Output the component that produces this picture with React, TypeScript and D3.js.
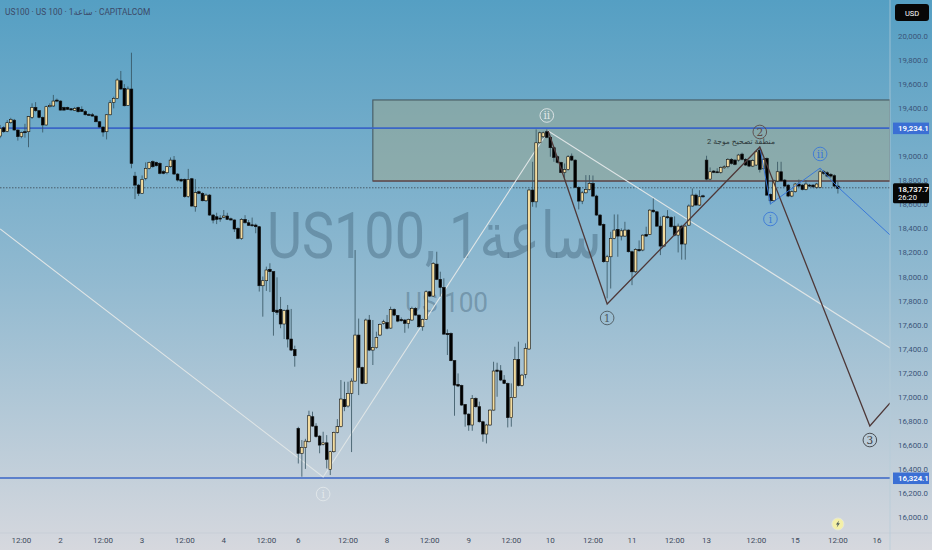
import React, { useRef, useEffect } from 'react'
import * as d3 from 'd3'

// [open, high, low, close], hourly candles
const ohlcWeek1 = [
  [19168,19260,19150,19232],[19237,19250,19195,19204],[19207,19300,19200,19279],[19279,19320,19270,19307],
  [19300,19310,19215,19218],[19218,19225,19130,19163],[19163,19205,19150,19196],[19204,19270,19155,19196],
  [19204,19335,19075,19329],[19323,19440,19310,19406],[19406,19450,19370,19379],[19379,19385,19315,19323],
  [19323,19330,19198,19260],[19260,19420,19255,19412],[19412,19440,19405,19423],[19418,19510,19410,19459],
  [19467,19480,19450,19459],[19459,19465,19380,19384],[19406,19412,19378,19384],[19406,19412,19385,19390],
  [19395,19400,19380,19385],[19382,19410,19378,19398],[19406,19412,19365,19370],[19390,19415,19368,19373],
  [19373,19385,19340,19345],[19348,19358,19338,19343],[19345,19360,19330,19334],[19334,19340,19282,19287],
  [19287,19292,19238,19243],[19243,19248,19163,19201],[19204,19350,19140,19345],[19345,19467,19340,19445],
  [19448,19495,19398,19481],[19481,19648,19475,19634],[19628,19709,19553,19559],[19564,19600,19415,19420],
  [19423,19580,19418,19559],[19559,19861,18900,18941],[18835,18870,18644,18760],[18760,18770,18670,18692],
  [18692,18840,18688,18808],[18816,18949,18800,18899],[18899,18955,18890,18949],[18955,18965,18905,18913],
  [18949,18955,18915,18921],[18941,18950,18850,18858],[18872,18885,18850,18858],[18863,18920,18850,18913],
  [18913,18990,18905,18968],[18968,19002,18845,18852],[18852,18860,18790,18802],[18808,18815,18785,18794],
  [18808,18815,18655,18664],[18664,18895,18655,18808],[18813,18820,18580,18586],[18580,18810,18539,18697],
  [18705,18715,18685,18691],[18691,18700,18625,18630],[18630,18690,18620,18677],[18677,18685,18505,18511],
  [18511,18520,18442,18469],[18497,18530,18436,18475],[18486,18510,18455,18480],[18492,18553,18485,18503],
  [18503,18530,18470,18475],[18480,18490,18465,18470],[18470,18475,18370,18395],[18400,18410,18310,18317],
  [18315,18485,18305,18475],[18475,18510,18440,18447],[18447,18470,18420,18425],[18430,18490,18415,18422],
  [18428,18440,18360,18414],[18414,18420,17875,17923],[17923,18000,17666,17965],[17965,18082,17880,18054],
  [18060,18110,17870,18040],[18040,18045,17508,17707],[17720,17993,17680,17702],[17727,17830,17570,17605],
  [17605,17725,17480,17716],[17721,17763,17410,17480],[17480,17730,17380,17388],[17394,17425,17250,17341],
]

const ohlcWeek2 = [
  [16737,16750,16445,16529],[16529,16640,16335,16579],[16579,16650,16400,16631],[16626,16884,16620,16842],
  [16834,16876,16750,16756],[16756,16780,16660,16668],[16673,16680,16530,16598],[16604,16709,16595,16617],
  [16617,16681,16404,16479],[16396,16550,16349,16543],[16543,16710,16535,16704],[16704,16814,16695,16751],
  [16751,17139,16745,16981],[16978,17125,16880,16917],[16923,17125,16910,17028],[17028,17153,16540,17130],
  [17130,18220,17125,17513],[17513,17650,17014,17244],[17244,17250,17105,17111],[17111,17650,17105,17638],
  [17638,17680,17380,17388],[17388,17638,17264,17410],[17408,17541,17400,17494],[17513,17610,17505,17602],
  [17610,17640,17600,17624],[17618,17680,17560,17568],[17571,17749,17565,17726],[17726,17735,17670,17679],
  [17676,17680,17620,17629],[17643,17660,17625,17632],[17638,17645,17532,17610],[17610,17650,17568,17643],
  [17638,17749,17630,17735],[17735,17745,17675,17679],[17679,17685,17575,17582],[17582,17650,17549,17643],
  [17643,17885,17638,17873],[17873,17880,17830,17837],[17837,18120,17830,18109],[18103,18206,17970,17976],
  [17976,18040,17832,17909],[17909,17985,17515,17521],[17527,17560,17347,17516],[17527,17535,17295,17300],
  [17300,17305,16842,17097],[17103,17194,17080,17089],[17094,17100,16925,16931],[16936,16940,16751,16856],
  [16856,16862,16717,16765],[16765,17014,16717,16986],[16986,16995,16910,16917],[16917,16959,16785,16792],
  [16792,16800,16626,16690],[16690,16775,16612,16765],[16765,16895,16760,16889],[16889,17291,16885,17214],
  [17222,17283,17000,17211],[17216,17263,17130,17139],[17139,17180,17105,17111],[17111,17118,16745,16826],
  [16826,17111,16751,16995],[16995,17416,16990,17311],[17311,17458,17085,17092],[17092,17190,17085,17180],
  [17186,17444,17153,17402],[17397,18730,17390,18719],[18719,18954,18580,18621],[18621,19223,18574,19112],
  [19112,19205,19105,19195],[19162,19205,19150,19195],[19204,19223,19150,19157],[19157,19165,18996,19071],
  [19071,19080,18954,18990],[18996,19005,18940,18949],[18949,18955,18860,18865],[18865,18940,18815,18890],
  [18890,19010,18880,18996],[19001,19023,18960,18968],[18968,18975,18735,18741],[18741,18750,18558,18627],
  [18627,18710,18602,18696],[18696,18843,18690,18724],[18724,18843,18715,18774],[18774,18840,18660,18669],
  [18669,18680,18505,18511],[18511,18520,18420,18427],[18433,18440,18115,18123],[18123,18180,17818,18164],
  [18164,18372,17900,18317],[18317,18516,18310,18386],[18392,18516,18164,18336],[18336,18400,18300,18380],
  [18336,18455,18330,18386],[18386,18392,18200,18206],[18206,18215,17928,18039],[18039,18235,18030,18225],
  [18225,18300,18206,18214],[18220,18350,18210,18344],[18350,18414,18330,18336],[18350,18560,18345,18552],
  [18552,18649,18530,18538],[18538,18545,18412,18419],[18419,18497,18178,18253],[18253,18510,18245,18497],
  [18497,18552,18480,18489],[18491,18500,18405,18414],[18419,18500,18335,18344],[18344,18440,18200,18419],
  [18419,18430,18140,18270],[18270,18430,18140,18419],[18427,18600,18420,18586],[18586,18732,18580,18677],
  [18677,18690,18590,18594],[18594,18718,18588,18663],[18671,18680,18655,18666],
]

const ohlcWeek3 = [
  [18968,19004,18800,18810],[18810,18907,18800,18871],[18877,18885,18860,18866],[18871,18900,18860,18866],
  [18866,18915,18855,18907],[18904,18925,18895,18913],[18913,18985,18900,18974],[18974,18985,18930,18940],
  [18968,18975,18925,18932],[18968,19020,18955,19010],[19018,19030,18965,18974],[18974,18985,18920,18927],
  [18963,18970,18910,18918],[18918,18975,18910,18963],[18927,19045,18920,19037],[19051,19071,18865,18891],
  [18899,18985,18890,18974],[18982,18990,18670,18677],[18683,18690,18600,18630],[18630,18805,18620,18794],
  [18794,18954,18785,18871],[18871,18954,18790,18796],[18802,18810,18745,18752],[18760,18768,18660,18669],
  [18669,18715,18660,18705],[18705,18778,18698,18769],[18769,18807,18745,18752],[18760,18768,18716,18724],
  [18724,18802,18716,18769],[18760,18770,18745,18752],[18760,18768,18735,18746],[18741,18778,18730,18769],
  [18741,18890,18735,18871],[18871,18885,18845,18857],[18863,18875,18825,18835],[18849,18860,18820,18835],
  [18838,18850,18745,18752],[18752,18790,18690,18733],
]

const timeTicks: [number, string][] = [
  [6,'12:00'],[17,'2'],[29,'12:00'],[40,'3'],[52,'12:00'],[63,'4'],[75,'12:00'],[84,'6'],[98,'12:00'],[109,'8'],
  [121,'12:00'],[132,'9'],[144,'12:00'],[155,'10'],[167,'12:00'],[178,'11'],[190,'12:00'],[199,'13'],[213,'12:00'],
  [224,'15'],[236,'12:00'],[247,'16'],
]

// drawings, as [candle index, price]
const whiteLeg = [[0,18395],[91,16333],[154.4,19210],[250.7,17405]]
const waveLeg = [[154.4,19210],[171,17771],[214,19077],[245,16757],[250.7,16948]]
const subWaveLeg = [[214,19077],[217,18603],[231,18902],[236,18744],[250.7,18345]]
const supplyZone = { from: 105, to: 250.7, top: 19468, bottom: 18794 }
const levels = [19234.1, 16324.1]
const lastPrice = 18737.7
// covered by the 19,234.1 tag
const hiddenTicks = [19200]

const waveMarks: [number, number, string, string][] = [
  [154, 19339, 'ii', '#e2e8ea'],
  [171, 17655, '1', '#4e5a60'],
  [214, 19202, '2', '#5a4a48'],
  [245, 16640, '3', '#3c4044'],
  [91, 16191, 'i', '#e2e8ea'],
  [231, 19019, 'ii', '#3a78d8'],
  [217, 18478, 'i', '#3a78d8'],
]

const font = 'Roboto, "DejaVu Sans", sans-serif'

export default function App() {
  const svgRef = useRef<SVGSVGElement>(null)

  useEffect(() => {
    if (!svgRef.current) return
    const svg = d3.select(svgRef.current)
    svg.selectAll('*').remove()

    const width = 932
    const height = 550
    const axisX = 890
    const candles = [...ohlcWeek1, ...ohlcWeek2, ...ohlcWeek3]

    const x = d3.scaleLinear().domain([0, 250]).range([0.1, 887.6])
    const y = d3.scaleLinear().domain([20000, 16000]).range([36, 517])

    // Background
    const defs = svg.append('defs')
    const grad = defs.append('linearGradient').attr('id', 'bg')
      .attr('x1', 0).attr('x2', 0).attr('y1', 0).attr('y2', 1)
    grad.append('stop').attr('offset', '0%').attr('stop-color', '#559fc3')
    grad.append('stop').attr('offset', '50%').attr('stop-color', '#90b9d0')
    grad.append('stop').attr('offset', '100%').attr('stop-color', '#d6d8de')
    defs.append('clipPath').attr('id', 'plot')
      .append('rect').attr('width', axisX).attr('height', 533)

    svg.append('rect').attr('width', width).attr('height', height).attr('fill', 'url(#bg)')

    // Watermark
    svg.append('text').attr('x', 267).attr('y', 258)
      .attr('font-family', font).attr('font-size', 65)
      .attr('textLength', 335).attr('lengthAdjust', 'spacingAndGlyphs')
      .attr('fill', '#3d5c72').attr('fill-opacity', 0.4)
      .text('US100, 1ساعة')
    svg.append('text').attr('x', 405).attr('y', 312)
      .attr('font-family', font).attr('font-size', 28)
      .attr('textLength', 83).attr('lengthAdjust', 'spacingAndGlyphs')
      .attr('fill', '#3d5c72').attr('fill-opacity', 0.4)
      .text('US 100')

    svg.append('text').attr('x', 5).attr('y', 15)
      .attr('font-family', font).attr('font-size', 8.4)
      .attr('fill', '#3c4a68')
      .text('US100 · US 100 · 1ساعة · CAPITALCOM')

    const plot = svg.append('g').attr('clip-path', 'url(#plot)')

    // Supply zone
    plot.append('rect')
      .attr('x', x(supplyZone.from)).attr('y', y(supplyZone.top))
      .attr('width', x(supplyZone.to) - x(supplyZone.from))
      .attr('height', y(supplyZone.bottom) - y(supplyZone.top))
      .attr('fill', '#9ea88d').attr('fill-opacity', 0.5)
      .attr('stroke', '#465a62').attr('stroke-width', 1.1)
    plot.append('line')
      .attr('x1', x(supplyZone.from)).attr('x2', axisX)
      .attr('y1', y(supplyZone.bottom)).attr('y2', y(supplyZone.bottom))
      .attr('stroke', '#6b3a3a').attr('stroke-width', 1.2)

    // Levels
    plot.selectAll('.level').data(levels).join('line')
      .attr('class', 'level')
      .attr('x1', 0).attr('x2', axisX)
      .attr('y1', d => y(d)).attr('y2', d => y(d))
      .attr('stroke', '#3a66c6').attr('stroke-width', 1.6)
    plot.append('line')
      .attr('x1', 0).attr('x2', axisX)
      .attr('y1', y(lastPrice)).attr('y2', y(lastPrice))
      .attr('stroke', '#3b4650').attr('stroke-width', 0.8).attr('stroke-dasharray', '1.5,1.5')

    const line = d3.line<number[]>().x(d => x(d[0])).y(d => y(d[1]))

    plot.append('path').attr('d', line(whiteLeg)!)
      .attr('fill', 'none').attr('stroke', '#dfe5e6').attr('stroke-width', 1.1)

    // Candles
    const g = plot.selectAll('.candle').data(candles).join('g').attr('class', 'candle')
    g.append('line')
      .attr('x1', (_, i) => x(i)).attr('x2', (_, i) => x(i))
      .attr('y1', d => y(d[1])).attr('y2', d => y(d[2]))
      .attr('stroke', '#34505e').attr('stroke-width', 0.8)
    g.append('rect')
      .attr('x', (_, i) => x(i) - 1.35)
      .attr('width', 2.7)
      .attr('y', d => y(Math.max(d[0], d[3])))
      .attr('height', d => Math.max(1, Math.abs(y(d[0]) - y(d[3]))))
      .attr('fill', d => d[3] >= d[0] ? '#f3dc9f' : '#000')
      .attr('stroke', '#111').attr('stroke-width', 0.6)

    plot.append('path').attr('d', line(subWaveLeg)!)
      .attr('fill', 'none').attr('stroke', '#3a78d8').attr('stroke-width', 1)
    plot.append('path').attr('d', line(waveLeg)!)
      .attr('fill', 'none').attr('stroke', '#4e3838').attr('stroke-width', 1.3)

    // Wave labels
    const marks = plot.selectAll('.mark').data(waveMarks).join('g').attr('class', 'mark')
      .attr('transform', d => `translate(${x(d[0])},${y(d[1])})`)
    marks.append('circle').attr('r', 6.8)
      .attr('fill', 'none').attr('stroke', d => d[3]).attr('stroke-width', 0.9)
    marks.append('text')
      .attr('text-anchor', 'middle').attr('y', 4)
      .attr('font-family', '"DejaVu Serif", serif').attr('font-size', 10.5)
      .attr('fill', d => d[3])
      .text(d => d[2])

    plot.append('text').attr('x', 741).attr('y', 144)
      .attr('text-anchor', 'middle').attr('direction', 'rtl')
      .attr('font-family', font).attr('font-size', 7.6).attr('fill', '#2f3a3c')
      .text('منطقة تصحيح موجة 2')

    // Time axis
    svg.append('line').attr('x1', 0).attr('x2', width).attr('y1', 533).attr('y2', 533)
      .attr('stroke', '#c4ccd4').attr('stroke-width', 0.7)
    svg.selectAll('.time').data(timeTicks).join('text')
      .attr('class', 'time')
      .attr('x', d => x(d[0])).attr('y', 543)
      .attr('text-anchor', 'middle')
      .attr('font-family', font).attr('font-size', 8).attr('fill', '#3d4a5c')
      .text(d => d[1])

    // Session break marker
    const bolt = svg.append('g').attr('transform', `translate(${x(236)},524)`)
    bolt.append('circle').attr('r', 6).attr('fill', '#f4f0a8').attr('stroke', '#e6e8d8').attr('stroke-width', 1)
    bolt.append('path').attr('d', 'M1.2,-3.6 L-2,0.6 L-0.2,0.6 L-1.2,3.6 L2,-0.8 L0.2,-0.8 Z').attr('fill', '#4a5a5a')

    // Price axis
    svg.append('line').attr('x1', axisX).attr('x2', axisX).attr('y1', 0).attr('y2', height)
      .attr('stroke', '#b4ccd8').attr('stroke-width', 0.7)
    svg.selectAll('.price').data(y.ticks(20).filter(d => !hiddenTicks.includes(d))).join('text')
      .attr('class', 'price')
      .attr('x', 898).attr('y', d => y(d) + 3)
      .attr('font-family', font).attr('font-size', 7.8).attr('fill', '#3a5478')
      .text(d => d3.format(',.1f')(d))

    svg.selectAll('.tag').data(levels).join('g')
      .attr('class', 'tag')
      .attr('transform', d => `translate(893,${y(d)})`)
      .call(sel => {
        sel.append('rect').attr('y', -5.5).attr('width', 36).attr('height', 11.5).attr('fill', '#3b6fd4')
        sel.append('text').attr('x', 5).attr('y', 3)
          .attr('font-family', font).attr('font-size', 7.8).attr('font-weight', 600).attr('fill', '#fff')
          .text(d => d3.format(',.1f')(d))
      })

    const last = svg.append('g').attr('transform', `translate(893,${y(lastPrice) - 4.6})`)
    last.append('rect').attr('width', 36).attr('height', 20).attr('rx', 1.5).attr('fill', '#070707')
    last.append('text').attr('x', 5).attr('y', 8.6)
      .attr('font-family', font).attr('font-size', 7.8).attr('font-weight', 600).attr('fill', '#fff')
      .text(d3.format(',.1f')(lastPrice))
    last.append('text').attr('x', 5).attr('y', 17)
      .attr('font-family', font).attr('font-size', 7.6).attr('fill', '#fff')
      .text('26:20')

    const usd = svg.append('g').attr('transform', 'translate(895,4)')
    usd.append('rect').attr('width', 34).attr('height', 17).attr('rx', 3).attr('fill', '#070707')
    usd.append('text').attr('x', 17).attr('y', 11.5).attr('text-anchor', 'middle')
      .attr('font-family', font).attr('font-size', 7.5).attr('fill', '#fff')
      .text('USD')
  }, [])

  return (
    <svg
      ref={svgRef}
      width={932}
      height={550}
      style={{ position: 'fixed', left: 0, top: 0, display: 'block' }}
    />
  )
}
